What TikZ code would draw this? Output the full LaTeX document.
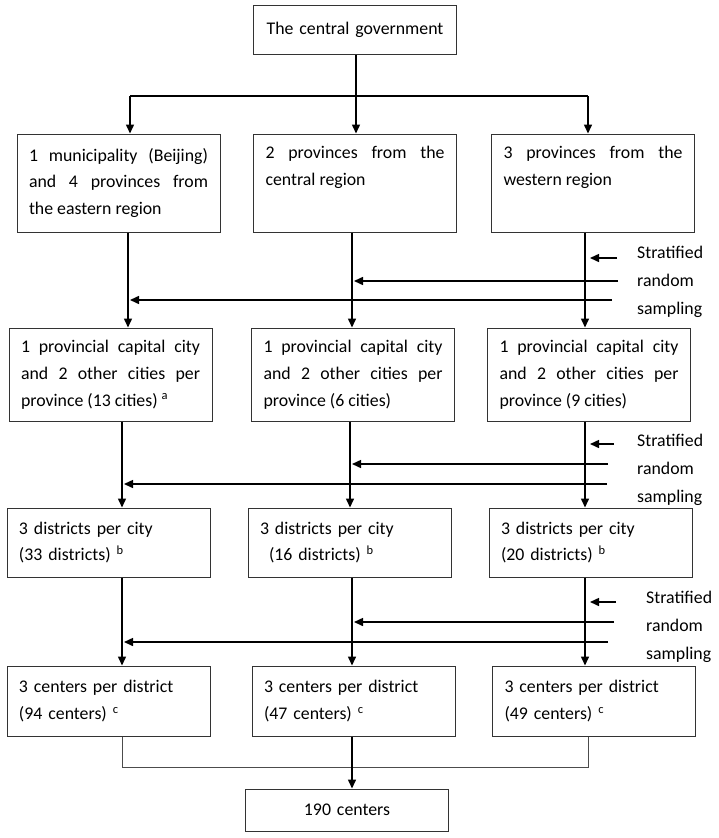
\documentclass[tikz,border=0pt]{standalone}
\usepackage{fontspec}
\setmainfont{Carlito}
\usetikzlibrary{arrows.meta}

\begin{document}
\begin{tikzpicture}[x=1pt, y=-1pt,
        box/.style = {draw=black!80, line width=1pt, text width=179pt,
            inner xsep=12pt, inner ysep=0pt, align=justify,
            font=\fontsize{17.8}{26.8}\selectfont},
        arrow/.style = {line width=1.5pt, -{Triangle[length=9pt,width=8pt]}},
        sumline/.style = {line width=0.9pt, black!70},
        side/.style = {anchor=west, align=left, inner sep=0pt,
            font=\fontsize{17.8}{28}\selectfont}]
    \useasboundingbox (0,0) rectangle (719,838);

    % boxes
    \node[box, align=center, minimum height=49pt] (gov) at (355,29.5)
        {The central government};

    \node[box, minimum height=98pt] (east) at (118.5,183)
        {1 municipality (Beijing)\linebreak and 4 provinces from\linebreak the eastern region};
    \node[box, minimum height=98pt] (central) at (355,183)
        {2 provinces from the\linebreak central region\\\strut};
    \node[box, minimum height=98pt] (west) at (593,183)
        {3 provinces from the\linebreak western region\\\strut};

    \node[box, minimum height=93pt] (cityA) at (110.5,374.5)
        {1 provincial capital city\linebreak and 2 other cities per\linebreak province (13 cities) \textsuperscript{a}};
    \node[box, minimum height=93pt] (cityB) at (353,374.5)
        {1 provincial capital city\linebreak and 2 other cities per\linebreak province (6 cities)};
    \node[box, minimum height=93pt] (cityC) at (589,374.5)
        {1 provincial capital city\linebreak and 2 other cities per\linebreak province (9 cities)};

    \node[box, align=left, minimum height=69pt] (distA) at (108.5,542.5)
        {3 districts per city\\(33 districts) \textsuperscript{b}};
    \node[box, align=left, minimum height=69pt] (distB) at (349.5,542.5)
        {3 districts per city\\\hspace*{9pt}(16 districts) \textsuperscript{b}};
    \node[box, align=left, minimum height=69pt] (distC) at (590.5,542.5)
        {3 districts per city\\(20 districts) \textsuperscript{b}};

    \node[box, align=left, minimum height=70pt] (cntA) at (108.5,701)
        {3 centers per district\\(94 centers) \textsuperscript{c}};
    \node[box, align=left, minimum height=70pt] (cntB) at (353.5,701)
        {3 centers per district\\(47 centers) \textsuperscript{c}};
    \node[box, align=left, minimum height=70pt] (cntC) at (594,701)
        {3 centers per district\\(49 centers) \textsuperscript{c}};

    \node[box, align=center, minimum height=42pt] (total) at (347,810)
        {190 centers};

    % sampling notes
    \node[side] (strat1) at (637,282) {Stratified\\random\\sampling};
    \node[side] (strat2) at (637,470) {Stratified\\random\\sampling};
    \node[side] (strat3) at (646,627) {Stratified\\random\\sampling};

    % top branch
    \coordinate (br)  at (356,96);
    \coordinate (brA) at (130,96);
    \coordinate (brC) at (588,96);
    \draw[line width=1.5pt] (gov.south -| br) -- (br);
    \draw[line width=1.5pt] (brA) -- (brC);
    \draw[arrow] (brA) -- (brA |- east.north);
    \draw[arrow] (br) -- (br |- central.north);
    \draw[arrow] (brC) -- (brC |- west.north);

    % row 1 to row 2
    \coordinate (v1a) at (128,300);
    \coordinate (v1b) at (352,281);
    \coordinate (v1c) at (585,258);
    \coordinate (s1a) at (612,300);
    \coordinate (s1b) at (618,281);
    \coordinate (s1c) at (617,258);
    \draw[arrow] (east.south -| v1a) -- (cityA.north -| v1a);
    \draw[arrow] (central.south -| v1b) -- (cityB.north -| v1b);
    \draw[arrow] (west.south -| v1c) -- (cityC.north -| v1c);
    \draw[arrow] (s1a) -- ([xshift=2pt]v1a);
    \draw[arrow] (s1b) -- ([xshift=2pt]v1b);
    \draw[arrow] (s1c) -- ([xshift=5pt]v1c);

    % row 2 to row 3
    \coordinate (v2a) at (122,484);
    \coordinate (v2b) at (350,464);
    \coordinate (v2c) at (585,444);
    \coordinate (s2a) at (607,484);
    \coordinate (s2b) at (608,464);
    \coordinate (s2c) at (614,444);
    \draw[arrow] (cityA.south -| v2a) -- (distA.north -| v2a);
    \draw[arrow] (cityB.south -| v2b) -- (distB.north -| v2b);
    \draw[arrow] (cityC.south -| v2c) -- (distC.north -| v2c);
    \draw[arrow] (s2a) -- ([xshift=2pt]v2a);
    \draw[arrow] (s2b) -- ([xshift=2pt]v2b);
    \draw[arrow] (s2c) -- ([xshift=5pt]v2c);

    % row 3 to row 4
    \coordinate (v3a) at (122,642);
    \coordinate (v3b) at (352,622);
    \coordinate (v3c) at (585,602);
    \coordinate (s3a) at (608,642);
    \coordinate (s3b) at (614,622);
    \coordinate (s3c) at (616,602);
    \draw[arrow] (distA.south -| v3a) -- (cntA.north -| v3a);
    \draw[arrow] (distB.south -| v3b) -- (cntB.north -| v3b);
    \draw[arrow] (distC.south -| v3c) -- (cntC.north -| v3c);
    \draw[arrow] (s3a) -- ([xshift=2pt]v3a);
    \draw[arrow] (s3b) -- ([xshift=2pt]v3b);
    \draw[arrow] (s3c) -- ([xshift=5pt]v3c);

    % sum
    \coordinate (jA) at (122,767);
    \coordinate (jB) at (352,767);
    \coordinate (jC) at (588,767);
    \draw[sumline] (cntA.south -| jA) -- (jA) -- (jC) -- (cntC.south -| jC);
    \draw[arrow] (cntB.south -| jB) -- (total.north -| jB);
\end{tikzpicture}
\end{document}
